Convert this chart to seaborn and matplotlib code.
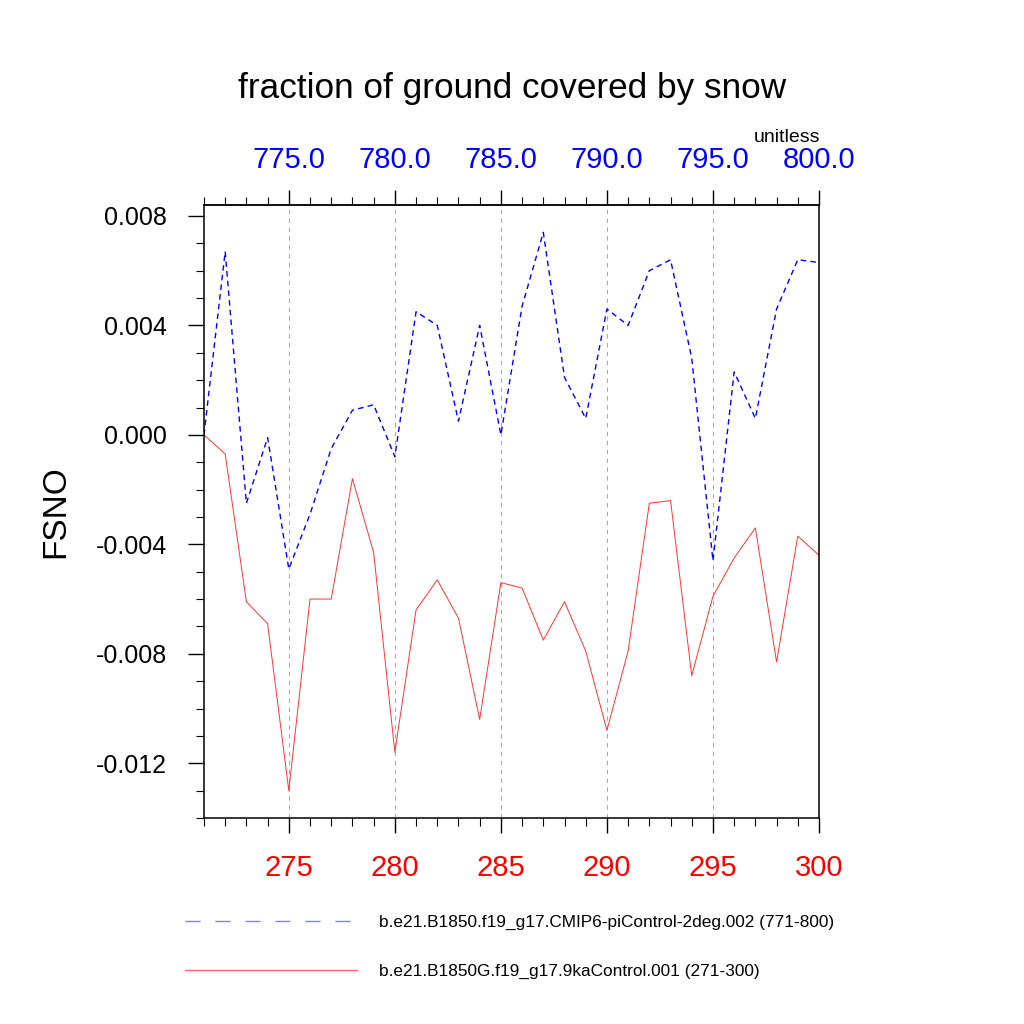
import matplotlib
matplotlib.use("Agg")
import matplotlib.pyplot as plt
from matplotlib.lines import Line2D
from matplotlib.ticker import MultipleLocator, FormatStrFormatter
import seaborn as sns
import numpy as np

# ---- data ----
years_9ka = list(range(271, 301))
years_pi = list(range(771, 801))

fsno_pi = [0.0000, 0.0067, -0.0025, -0.0001, -0.0049, -0.0029, -0.0005, 0.0009,
           0.0011, -0.0008, 0.0045, 0.0040, 0.0005, 0.0040, 0.0000, 0.0047,
           0.0074, 0.0021, 0.0006, 0.0046, 0.0040, 0.0060, 0.0064, 0.0028,
           -0.0046, 0.0023, 0.0006, 0.0046, 0.0064, 0.0063]

fsno_9ka = [0.0000, -0.0007, -0.0061, -0.0069, -0.0130, -0.0060, -0.0060, -0.0016,
            -0.0043, -0.0116, -0.0064, -0.0053, -0.0067, -0.0104, -0.0054, -0.0056,
            -0.0075, -0.0061, -0.0079, -0.0108, -0.0079, -0.0025, -0.0024, -0.0088,
            -0.0059, -0.0045, -0.0034, -0.0083, -0.0037, -0.0044]

label_pi = "b.e21.B1850.f19_g17.CMIP6-piControl-2deg.002 (771-800)"
label_9ka = "b.e21.B1850G.f19_g17.9kaControl.001 (271-300)"
title = "fraction of ground covered by snow"
ylabel = "FSNO"
units = "unitless"

offset = years_pi[0] - years_9ka[0]

sns.set_style("white")
plt.rcParams['font.family'] = ['Liberation Sans', 'DejaVu Sans']
plt.rcParams['text.color'] = 'black'
plt.rcParams['axes.labelcolor'] = 'black'
plt.rcParams['xtick.color'] = 'black'
plt.rcParams['ytick.color'] = 'black'

fig = plt.figure(figsize=(10.24, 10.24), dpi=100)
ax = fig.add_axes([0.1992, 0.2012, 0.6006, 0.5986])

# x positions of the pi series expressed on the bottom (271-300) scale
x_pi_on_bottom = [y - offset for y in years_pi]

sns.lineplot(x=x_pi_on_bottom, y=fsno_pi, ax=ax, color="blue", lw=1.0,
             linestyle=(0, (4, 3)), legend=False)
sns.lineplot(x=years_9ka, y=fsno_9ka, ax=ax, color="#ff3333", lw=0.7,
             legend=False)

ax.set_xlim(271, 300)
ax.set_ylim(-0.014, 0.0084)

# grid
for xv in range(275, 301, 5):
    ax.axvline(xv, color="#aaaaaa", lw=0.8, ls=(0, (4, 4)), zorder=0)

# spines
for s in ax.spines.values():
    s.set_linewidth(1.1)
    s.set_color("black")

# y axis ticks
ax.yaxis.set_major_locator(MultipleLocator(0.004))
ax.yaxis.set_minor_locator(MultipleLocator(0.001))
ax.yaxis.set_major_formatter(FormatStrFormatter("%.3f"))
ax.tick_params(axis="y", which="major", direction="out", length=11.5, width=1.0,
               labelsize=18, pad=15, left=True, right=False)
ax.tick_params(axis="y", which="minor", direction="out", length=6, width=0.8,
               left=True, right=False)

# bottom x axis
ax.xaxis.set_major_locator(MultipleLocator(5))
ax.xaxis.set_minor_locator(MultipleLocator(1))
ax.tick_params(axis="x", which="major", direction="out", length=11, width=1.0,
               labelsize=21, pad=15, labelcolor="red", bottom=True, top=False)
ax.tick_params(axis="x", which="minor", direction="out", length=5.5, width=0.8,
               bottom=True, top=False)

# top x axis
sec = ax.secondary_xaxis("top", functions=(lambda x: x + offset, lambda x: x - offset))
sec.xaxis.set_major_locator(MultipleLocator(5))
sec.xaxis.set_minor_locator(MultipleLocator(1))
sec.xaxis.set_major_formatter(FormatStrFormatter("%.1f"))
sec.tick_params(axis="x", which="major", direction="out", length=11, width=1.0,
                labelsize=21, pad=11.5, labelcolor="blue")
sec.tick_params(axis="x", which="minor", direction="out", length=5.5, width=0.8)
sec.spines["top"].set_linewidth(1.1)

ax.set_ylabel(ylabel, fontsize=24, labelpad=18)
ax.set_xlabel("")

fig.text(0.5, 0.914, title, ha="center", va="center", fontsize=25.3)
fig.text(0.801, 0.866, units, ha="right", va="center", fontsize=14)

handles = [
    Line2D([], [], color="#8080ff", lw=1.0, linestyle=(0, (10.8, 10.8))),
    Line2D([], [], color="#ff6666", lw=1.0),
]
fig.legend(handles, [label_pi, label_9ka], loc="center left",
           bbox_to_anchor=(0.1807, 0.0752), frameon=False, fontsize=12.4,
           handlelength=10.0, handletextpad=1.25, labelspacing=1.98,
           borderpad=0, borderaxespad=0)

fig.savefig("out.png", dpi=100)
